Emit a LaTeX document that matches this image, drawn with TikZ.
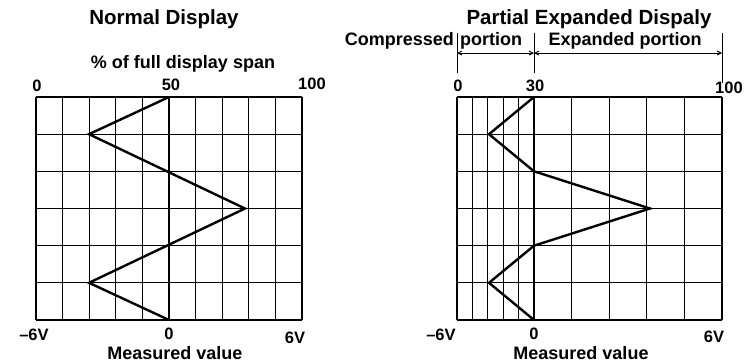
\documentclass[tikz,border=0pt]{standalone}
\usepackage{fontspec}
\setmainfont{Liberation Sans}
\usetikzlibrary{arrows.meta}
\tikzset{
  gridline/.style={line width=1.1pt, black},
  wave/.style={line width=2.4pt, black, line join=miter},
  title/.style={font=\bfseries\fontsize{20.5}{22}\selectfont, inner sep=0pt},
  lab/.style={font=\bfseries\fontsize{18}{20}\selectfont, inner sep=0pt},
  num/.style={font=\bfseries\fontsize{16.5}{18}\selectfont, inner sep=0pt},
  dimline/.style={line width=0.9pt, black},
  dimarrow/.style={line width=0.9pt, black, {Straight Barb[length=4pt,width=4pt]}-{Straight Barb[length=4pt,width=4pt]}},
}
\begin{document}
\begin{tikzpicture}[x=1pt,y=-1pt]
\useasboundingbox (0,0) rectangle (748,362);
% ---------- left grid ----------
\foreach \i in {0,...,10} \draw[gridline] ({36+\i*26.6},97) -- ({36+\i*26.6},320);
\foreach \j in {0,...,6} \draw[gridline] (36,{97+\j*37.17}) -- (302,{97+\j*37.17});
\draw[wave] (169,97) -- (89,134.2) -- (245,208.5) -- (89,282.8) -- (169,320);
% ---------- right grid ----------
\foreach \i in {0,...,5} \draw[gridline] ({457+\i*15.4},97) -- ({457+\i*15.4},320);
\foreach \i in {1,...,5} \draw[gridline] ({534+\i*37.6},97) -- ({534+\i*37.6},320);
\foreach \j in {0,...,6} \draw[gridline] (457,{97+\j*37.17}) -- (722,{97+\j*37.17});
\draw[wave] (534,97) -- (489,134.2) -- (534,171.3) -- (650,208.5) -- (534,245.7) -- (489,282.8) -- (534,320);
% ---------- left labels ----------
\node[title] (tl) at (164,19) {Normal Display};
\node[lab] (span) at (183,64) {\% of full display span};
\node[num] (l0) at (37,86) {0};
\node[num] (l50) at (171,85) {50};
\node[num] (l100) at (312,84) {100};
\node[num] (lm6) at (34,335) {–6V};
\node[num] (lz) at (169,334) {0};
\node[num] (l6) at (295,338) {6V};
\node[lab] (lmv) at (175,353) {Measured value};
% ---------- right labels ----------
\node[title] (tr) at (589,19) {Partial Expanded Dispaly};
\node[lab, anchor=east] (comp) at (454,41) {Compressed};
\node[lab, anchor=west] (port) at (460,41) {portion};
\node[lab] (exp) at (625,41) {Expanded portion};
\coordinate (d0t) at (457,33); \coordinate (d0b) at (457,73);
\coordinate (d1t) at (534,33); \coordinate (d1b) at (534,73);
\coordinate (d2t) at (722,33); \coordinate (d2b) at (722,83);
\draw[dimline] (d0t) -- (d0b);
\draw[dimline] (d1t) -- (d1b);
\draw[dimline] (d2t) -- (d2b);
\coordinate (a0) at (457,53); \coordinate (a1) at (534,53); \coordinate (a2) at (722,53);
\draw[dimarrow] (a0) -- (a1);
\draw[dimarrow] (a1) -- (a2);
\node[num] (r0) at (458,86) {0};
\node[num] (r30) at (535,86) {30};
\node[num] (r100) at (729,88) {100};
\node[num] (rm6) at (441,335) {–6V};
\node[num] (rz) at (534,334) {0};
\node[num] (r6) at (714,337) {6V};
\node[lab] (rmv) at (581,353) {Measured value};
\end{tikzpicture}
\end{document}
